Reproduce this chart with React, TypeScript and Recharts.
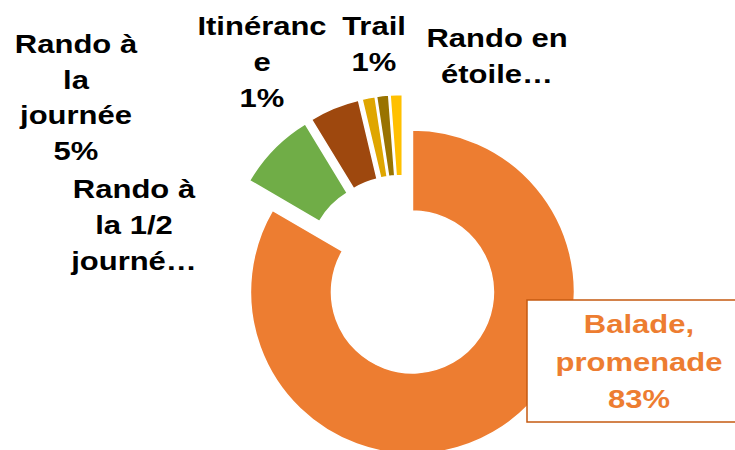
import React from 'react';
import { PieChart, Pie, Cell, Sector } from 'recharts';

// Slice data
const categories = [
  'Balade, promenade',
  'Rando à la 1/2 journée',
  'Rando à la journée',
  'Itinérance',
  'Trail',
  'Rando en étoile',
];
const values = [83.4, 7.9, 5.0, 1.3, 1.2, 1.2];
const percents = ['83%', '8%', '5%', '1%', '1%', '1%'];

// Data label text as wrapped/truncated in the original
const labelLines = [
  ['Balade,', 'promenade', percents[0]],
  ['Rando à', 'la 1/2', 'journé…'],
  ['Rando à', 'la', 'journée', percents[2]],
  ['Itinéranc', 'e', percents[3]],
  ['Trail', percents[4]],
  ['Rando en', 'étoile…'],
];

const COLORS = ['#ED7D31', '#70AD47', '#9E480E', '#DFA600', '#997300', '#FFC000'];

// Manually placed labels (like the dragged data labels in Excel)
const LABEL_POS = [
  { x: 639, y: 333, lh: 37.5, color: '#ED7D31' },
  { x: 134, y: 198, lh: 36, color: '#000' },
  { x: 76, y: 53, lh: 35.6, color: '#000' },
  { x: 262, y: 35, lh: 36, color: '#000' },
  { x: 374, y: 35, lh: 36, color: '#000' },
  { x: 497, y: 47, lh: 35.5, color: '#000' },
];

const data = categories.map((name, i) => ({ name, value: values[i] }));

const RADIAN = Math.PI / 180;
const EXPLODE = 19;

const ExplodedSector = (props: any) => {
  const { cx, cy, midAngle } = props;
  const dx = EXPLODE * Math.cos(-midAngle * RADIAN);
  const dy = EXPLODE * Math.sin(-midAngle * RADIAN);
  return <Sector {...props} cx={cx + dx} cy={cy + dy} />;
};

const renderLabel = (props: any) => {
  const i = props.index;
  const pos = LABEL_POS[i];
  const lines = labelLines[i];
  return (
    <g key={`lbl-${i}`}>
      {i === 0 && (
        <rect x={527} y={300} width={240} height={122} fill="#fff" stroke="#C55A11" strokeWidth={1.5} />
      )}
      {lines.map((line, j) => (
        <text
          key={j}
          transform={`translate(${pos.x},${pos.y + j * pos.lh}) scale(1.24,1)`}
          textAnchor="middle"
          fill={pos.color}
          fontFamily="'Liberation Sans', Arial, sans-serif"
          fontWeight="bold"
          fontSize={25}
        >
          {line}
        </text>
      ))}
    </g>
  );
};

const App = () => {
  return (
    <div style={{ position: 'absolute', left: 0, top: 0, background: '#fff' }}>
      <PieChart width={735} height={450} margin={{ top: 0, right: 0, bottom: 0, left: 0 }}>
        <Pie
          data={data}
          dataKey="value"
          nameKey="name"
          cx={403}
          cy={275.5}
          innerRadius={81}
          outerRadius={162}
          startAngle={90}
          endAngle={-270}
          stroke="#fff"
          strokeWidth={1.5}
          shape={ExplodedSector}
          activeShape={ExplodedSector}
          label={renderLabel}
          labelLine={false}
          isAnimationActive={false}
        >
          {data.map((entry, index) => (
            <Cell key={`cell-${index}`} fill={COLORS[index]} />
          ))}
        </Pie>
      </PieChart>
    </div>
  );
};

export default App;
